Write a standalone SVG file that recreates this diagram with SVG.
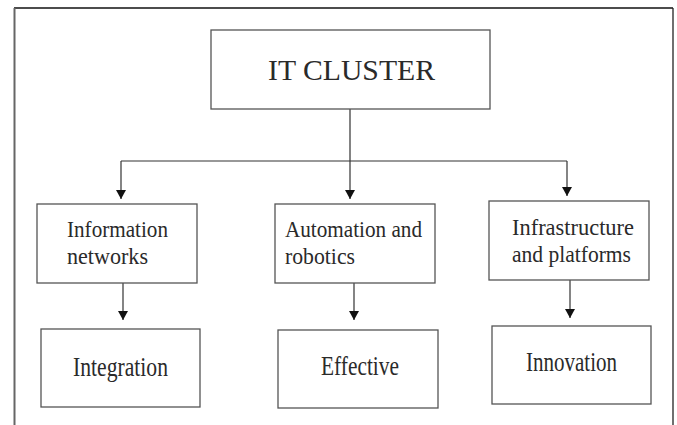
<svg xmlns="http://www.w3.org/2000/svg" width="677" height="425" viewBox="0 0 677 425">
  <defs>
    <marker id="arrow" markerUnits="userSpaceOnUse" markerWidth="10" markerHeight="10" refX="9" refY="5" orient="auto">
      <path d="M0,0 L9,5 L0,10 z" fill="#111"/>
    </marker>
    <style>
      .box { fill: #fff; stroke: #555; stroke-width: 1.3; }
      .lbl { font-family: "Liberation Serif", "Times New Roman", serif; fill: #2a2a2a; }
      .mid { font-size: 24px; }
      .low { font-size: 27px; }
      .link { fill: none; stroke: #333; stroke-width: 1.2; }
      .arr { fill: none; stroke: #333; stroke-width: 1.2; marker-end: url(#arrow); }
    </style>
  </defs>
  <rect width="677" height="425" fill="#fff"/>

  <!-- outer frame (open at the bottom) -->
  <g id="frame" fill="none">
    <line x1="14" y1="8" x2="673" y2="8" stroke="#111" stroke-width="1.5"/>
    <line x1="14.5" y1="8" x2="14.5" y2="425" stroke="#666" stroke-width="2"/>
    <line x1="673" y1="8" x2="673" y2="425" stroke="#222" stroke-width="1.3"/>
  </g>

  <!-- connectors -->
  <g id="connectors">
    <path class="link" d="M350,109 V161 M121,161 H567"/>
    <line class="arr" x1="121" y1="161" x2="121" y2="199"/>
    <line class="arr" x1="350" y1="161" x2="350" y2="199"/>
    <line class="arr" x1="567" y1="161" x2="567" y2="196"/>
    <line class="arr" x1="123" y1="283" x2="123" y2="320"/>
    <line class="arr" x1="354" y1="283" x2="354" y2="320"/>
    <line class="arr" x1="570" y1="280" x2="570" y2="318"/>
  </g>

  <g id="it-cluster">
    <rect class="box" x="211" y="30" width="279" height="79"/>
    <text class="lbl" x="268" y="80" font-size="30" textLength="167" lengthAdjust="spacingAndGlyphs">IT CLUSTER</text>
  </g>

  <g id="information-networks">
    <rect class="box" x="37" y="204" width="160" height="79"/>
    <text class="lbl mid" x="67" y="237" textLength="101" lengthAdjust="spacingAndGlyphs">Information</text>
    <text class="lbl mid" x="67" y="264" textLength="81" lengthAdjust="spacingAndGlyphs">networks</text>
  </g>

  <g id="automation-robotics">
    <rect class="box" x="275" y="204" width="160" height="79"/>
    <text class="lbl mid" x="285" y="237" textLength="137" lengthAdjust="spacingAndGlyphs">Automation and</text>
    <text class="lbl mid" x="285" y="264" textLength="70" lengthAdjust="spacingAndGlyphs">robotics</text>
  </g>

  <g id="infrastructure-platforms">
    <rect class="box" x="489" y="201" width="160" height="79"/>
    <text class="lbl mid" x="512" y="235" textLength="122" lengthAdjust="spacingAndGlyphs">Infrastructure</text>
    <text class="lbl mid" x="512" y="262" textLength="119" lengthAdjust="spacingAndGlyphs">and platforms</text>
  </g>

  <g id="integration">
    <rect class="box" x="41" y="329" width="159" height="78"/>
    <text class="lbl low" x="73" y="376" textLength="95" lengthAdjust="spacingAndGlyphs">Integration</text>
  </g>

  <g id="effective">
    <rect class="box" x="278" y="330" width="160" height="78"/>
    <text class="lbl low" x="321" y="375" textLength="78" lengthAdjust="spacingAndGlyphs">Effective</text>
  </g>

  <g id="innovation">
    <rect class="box" x="492" y="326" width="159" height="78"/>
    <text class="lbl low" x="526" y="371" textLength="91" lengthAdjust="spacingAndGlyphs">Innovation</text>
  </g>
</svg>
